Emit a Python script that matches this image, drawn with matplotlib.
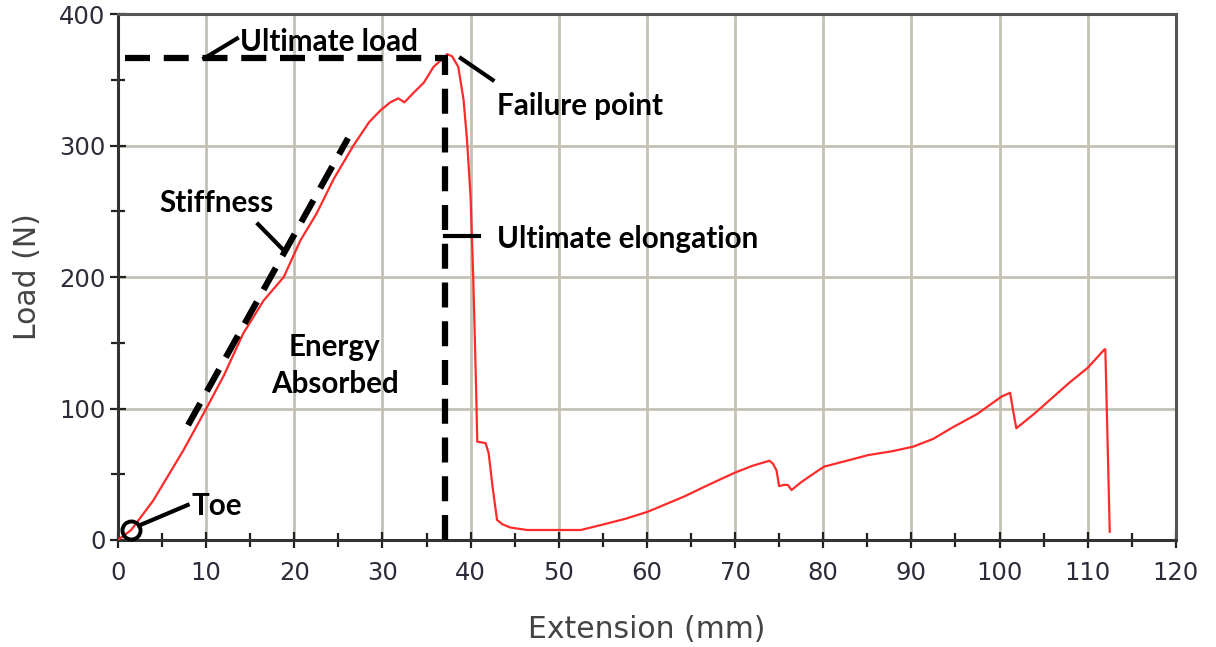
import matplotlib
matplotlib.use("Agg")
import matplotlib.pyplot as plt
from matplotlib.ticker import MultipleLocator

# ---- data ----
ext = [0.0, 1.5, 4.0, 7.4, 10.1, 12.0, 14.2, 16.5, 18.8, 20.7, 22.5, 24.5, 26.7,
       28.5, 29.8, 30.9, 31.8, 32.5, 33.5, 34.7, 35.8, 36.8, 37.35, 37.9, 38.6,
       39.2, 39.6, 40.0, 40.3, 40.6, 40.76, 41.7, 42.05, 42.5, 43.0, 43.6, 44.5, 46.4,
       52.5, 54.8, 57.5, 60.1, 64.2, 67.0, 69.9, 72.0, 73.9, 74.3, 74.7, 75.0,
       75.6, 76.0, 76.4, 77.5, 78.8, 80.1, 82.5, 85.1, 87.8, 90.2, 92.5, 94.5,
       97.5, 100.2, 101.2, 101.5, 101.9, 104.0, 107.8, 110.0, 111.9, 112.0, 112.5]
load = [0.0, 7.6, 30.0, 68.0, 101.0, 125.0, 157.0, 182.0, 200.0, 228.0, 248.0, 275.0, 300.0,
        318.0, 327.0, 333.0, 336.0, 333.0, 340.0, 348.0, 360.0, 366.0, 369.6, 368.0, 360.0,
        335.0, 304.0, 261.0, 200.0, 122.0, 74.8, 73.7, 66.0, 40.0, 15.2, 12.0, 9.5, 7.6,
        7.6, 11.4, 16.0, 21.5, 33.0, 42.0, 51.0, 56.5, 60.3, 58.0, 53.0, 41.0,
        42.0, 41.8, 38.0, 44.0, 50.0, 55.8, 60.0, 64.6, 67.5, 71.0, 77.0, 85.0,
        96.0, 109.0, 112.0, 100.0, 85.0, 96.4, 119.0, 131.0, 145.0, 145.0, 6.3]

x_ticks = [0, 10, 20, 30, 40, 50, 60, 70, 80, 90, 100, 110, 120]
y_ticks = [0, 100, 200, 300, 400]

ult_load = 366.5
ult_elong = 37.05
stiff_x = [7.95, 26.1]
stiff_y = [87.4, 305.7]
toe_pt = (1.5, 7.6)

plt.rcParams["font.family"] = ["DejaVu Sans"]

fig = plt.figure(figsize=(12.16, 6.47), dpi=100)
ax = fig.add_axes([0.097, 0.1654, 0.870, 0.8126])

ax.set_xlim(0, 120)
ax.set_ylim(0, 400)
ax.set_xticks(x_ticks)
ax.set_yticks(y_ticks)
ax.xaxis.set_minor_locator(MultipleLocator(5))
ax.yaxis.set_minor_locator(MultipleLocator(50))
ax.grid(True, which="major", color="#c4c1b4", lw=2.0, zorder=0)
ax.set_axisbelow(True)

tick_col = "#2b2b3a"
ax.tick_params(which="both", direction="inout", color="#222222", width=1.6,
               labelsize=17.5, labelcolor=tick_col)
ax.tick_params(which="major", length=12)
ax.tick_params(which="minor", length=10)
ax.tick_params(axis="x", which="major", pad=9)
ax.tick_params(axis="y", which="major", pad=3)
for lab in ax.get_xticklabels() + ax.get_yticklabels():
    lab.set_family("DejaVu Sans")

for s in ["left", "bottom"]:
    ax.spines[s].set_color("#333333")
    ax.spines[s].set_linewidth(2.2)
for s in ["top", "right"]:
    ax.spines[s].set_color("#555555")
    ax.spines[s].set_linewidth(2.2)

ax.set_xlabel("Extension (mm)", fontsize=21.5, color="#444444", labelpad=22,
              family="DejaVu Sans")
ax.set_ylabel("Load (N)", fontsize=21.5, color="#444444", labelpad=12,
              family="DejaVu Sans")

# curve
ax.plot(ext, load, color="#ff2a2a", lw=1.6, zorder=3)

# annotation styling
afont = dict(family=["Lato", "DejaVu Sans"], fontweight="bold", fontsize=21.3, color="black")
dash = dict(color="black", lw=4.5, dashes=(4.0, 2.2), zorder=4, solid_capstyle="butt")

# Ultimate load
ax.plot([0.8, 37.4], [ult_load, ult_load], **dash)
ax.plot([9.8, 13.5], [ult_load, 381.5], color="black", lw=3, zorder=4)
ax.text(13.8, 378.5, "Ultimate load", ha="left", va="center", **afont)

# Ultimate elongation
ax.plot([ult_elong, ult_elong], [0, ult_load], **dash)
ax.plot([ult_elong, 40.9], [231.0, 231.0], color="black", lw=3, zorder=4)
ax.text(43.0, 229.0, "Ultimate elongation", ha="left", va="center", **afont)

# Failure point
ax.plot([38.9, 42.5], [366.5, 350.0], color="black", lw=3, zorder=4)
ax.text(43.0, 330.0, "Failure point", ha="left", va="center", **afont)

# Stiffness
ax.plot(stiff_x, stiff_y, **dash)
ax.plot([15.9, 18.9], [240.2, 219.7], color="black", lw=3, zorder=4)
ax.text(11.2, 256.5, "Stiffness", ha="center", va="center", **afont)

# Energy absorbed
ax.text(24.6, 133.0, "Energy\nAbsorbed", ha="center", va="center",
        linespacing=1.4, **afont)

# Toe
ax.plot([toe_pt[0]], [toe_pt[1]], marker="o", ms=13, mfc="none", mec="black",
        mew=2.8, zorder=5, clip_on=False)
ax.plot([2.4, 7.9], [11.0, 26.6], color="black", lw=3, zorder=4)
ax.text(8.3, 26.0, "Toe", ha="left", va="center", **afont)

fig.savefig("out.png", dpi=100)
